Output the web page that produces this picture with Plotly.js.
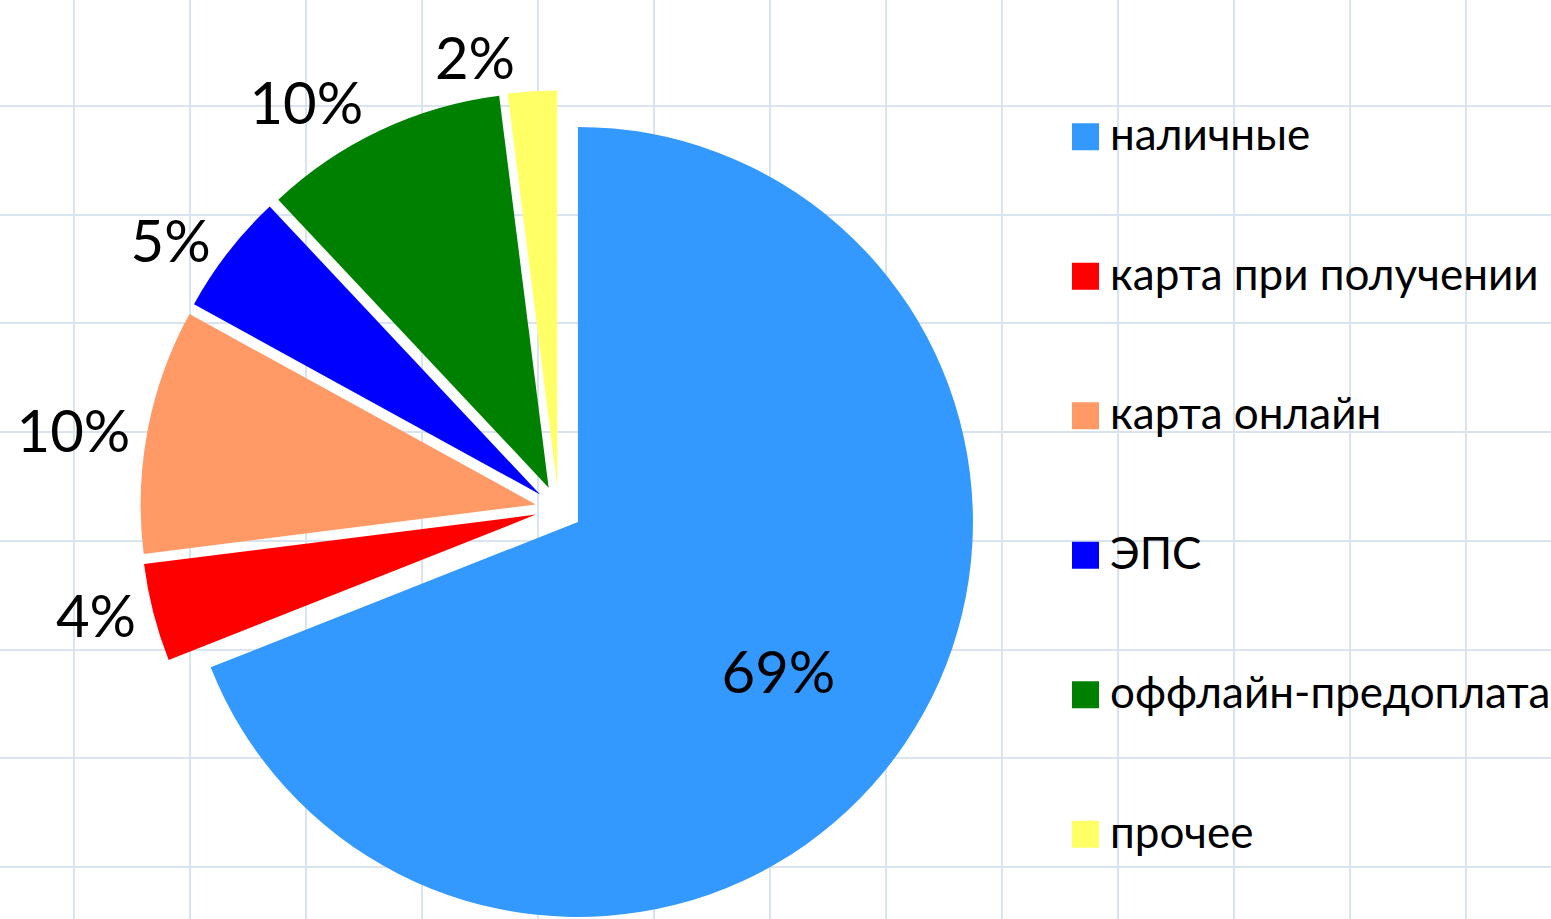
<!DOCTYPE html>
<html>
<head>
<meta charset="utf-8">
<script src="https://cdn.plot.ly/plotly-3.0.1.min.js"></script>
<style>
html,body{margin:0;padding:0;overflow:hidden;background:#fff;}
#chart{width:1551px;height:930px;}
</style>
</head>
<body>
<div id="chart"></div>
<script>
const categories = ["наличные", "карта при получении", "карта онлайн", "ЭПС", "оффлайн-предоплата", "прочее"];
const shares = [69, 4, 10, 5, 10, 2];
const sliceColors = ["#3399FF", "#FF0000", "#FF9966", "#0000FF", "#008000", "#FFFF66"];
// the first five labels are placed by the main trace, the last one by an overlay trace
const mainLabelPositions = ["inside", "outside", "outside", "outside", "outside", "none"];
const overlayLabelPositions = ["none", "none", "none", "none", "none", "outside"];
const labelTemplates = ["\u00a0<br>\u00a0\u00a0\u00a0\u00a0\u00a0%{percent:.0%}", "%{percent:.0%}", "%{percent:.0%}", "%{percent:.0%}", "%{percent:.0%}", "%{percent:.0%}"];

const W = 1551, H = 930;
const FONT = "Lato, 'Open Sans', sans-serif";

const legendNames = categories.map(c => "\u00a0<br><span style='font-size:44px'>" + c + "</span><br>\u00a0");

const pieDomain = {x: [140.2 / W, 977 / W], y: [(H - 927.2) / H, (H - 90.4) / H]};
const labelFont = {family: FONT, size: 58, color: "#000"};

const pie = {
  type: "pie",
  labels: legendNames,
  values: shares,
  sort: false,
  direction: "clockwise",
  rotation: 0,
  pull: 0.0592,
  marker: {colors: sliceColors, line: {width: 0}},
  texttemplate: labelTemplates,
  textposition: mainLabelPositions,
  textfont: labelFont,
  insidetextfont: labelFont,
  outsidetextfont: labelFont,
  insidetextorientation: "horizontal",
  domain: pieDomain,
  hoverinfo: "label+percent",
  showlegend: true
};

const pieLabelsOverlay = {
  type: "pie",
  labels: legendNames,
  values: shares,
  sort: false,
  direction: "clockwise",
  rotation: 0,
  pull: 0.0592,
  marker: {colors: shares.map(() => "rgba(0,0,0,0)"), line: {width: 0}},
  texttemplate: labelTemplates,
  textposition: overlayLabelPositions,
  textfont: labelFont,
  outsidetextfont: labelFont,
  domain: pieDomain,
  hoverinfo: "skip",
  showlegend: false
};

const gridHolder = {type: "scatter", x: [], y: [], showlegend: false, hoverinfo: "skip"};

const layout = {
  width: W,
  height: H,
  margin: {l: 0, r: 0, t: 0, b: 0, pad: 0, autoexpand: false},
  paper_bgcolor: "#ffffff",
  plot_bgcolor: "#ffffff",
  xaxis: {range: [0, W], tick0: 74, dtick: 116, showgrid: true, gridcolor: "#dae3f0", gridwidth: 2,
          zeroline: false, showticklabels: false, ticks: "", showline: false, fixedrange: true},
  yaxis: {range: [H, 0], tick0: 106, dtick: 108.7, showgrid: true, gridcolor: "#dae3f0", gridwidth: 2,
          zeroline: false, showticklabels: false, ticks: "", showline: false, fixedrange: true},
  showlegend: true,
  legend: {
    x: 1061 / W, xanchor: "left",
    y: 1 - 62 / H, yanchor: "top",
    bgcolor: "rgba(0,0,0,0)",
    borderwidth: 0,
    font: {family: FONT, size: 35, color: "#000"},
    itemwidth: 39,
    traceorder: "normal"
  }
};

Plotly.newPlot("chart", [gridHolder, pie, pieLabelsOverlay], layout, {displayModeBar: false, staticPlot: true}).then(function(gd){
  document.querySelectorAll("#chart .legendpie").forEach(function(p){
    p.setAttribute("d", "M13.5,13.5H-13.5V-13.5H13.5Z");
  });
});
</script>
</body>
</html>
